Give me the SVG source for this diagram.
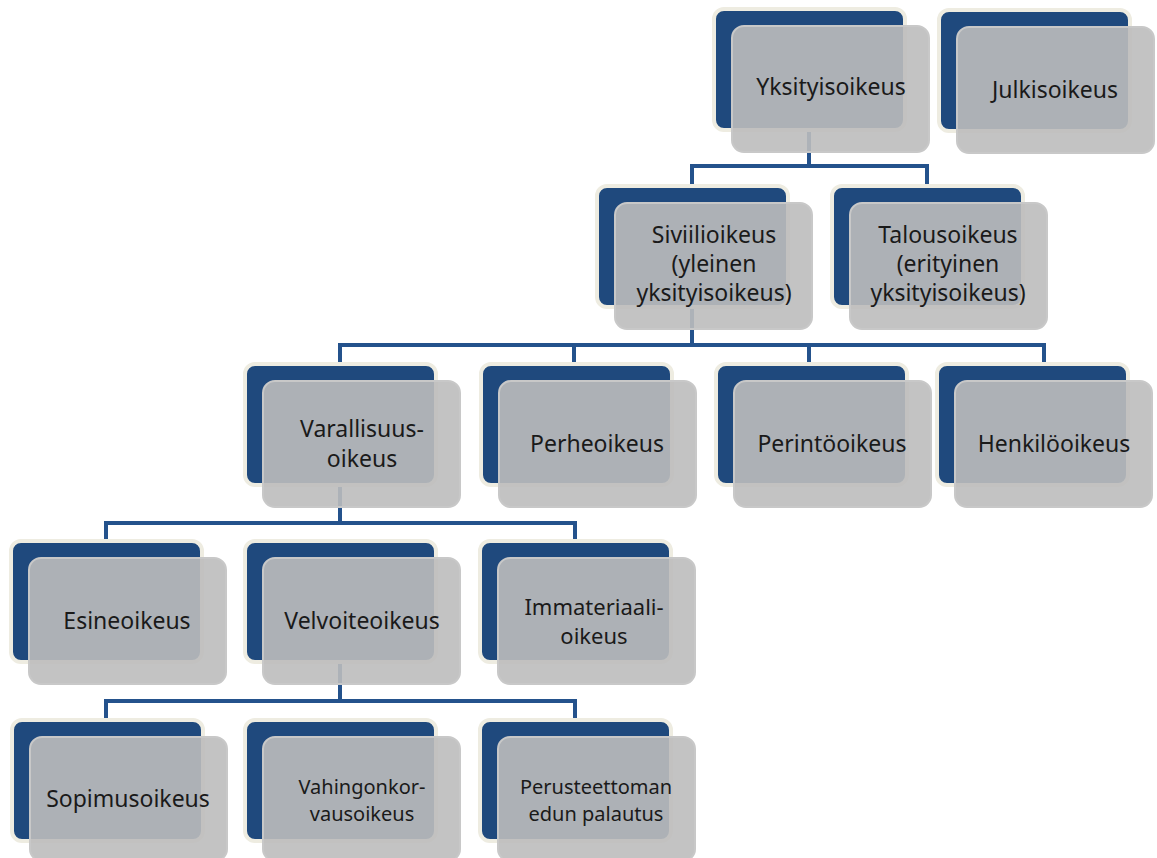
<svg xmlns="http://www.w3.org/2000/svg" width="1157" height="858" viewBox="0 0 1157 858">
<style>
.back{fill:#1f497d;stroke:#eeece1;stroke-width:4}
.front{fill:#bdbdbd;fill-opacity:0.9;stroke:#c8c8c8;stroke-width:2}
.t{font-family:"Noto Sans","Open Sans",sans-serif;font-size:23px;fill:#1a1a1a;text-anchor:middle}
.s{font-size:20px}
.m{font-size:22px}
.c{fill:none;stroke:#24528c;stroke-width:4}
</style>
<rect width="1157" height="858" fill="#ffffff"/>
<g id="connectors">
<path class="c" d="M809 128V166M692 188V166H927V188"/>
<path class="c" d="M692 305V345M340 367V345H1044V367M574 345V367M809 345V367"/>
<path class="c" d="M340 483V523M106 543V523H575V543"/>
<path class="c" d="M340 660V701M106 722V701H575V722"/>
</g>
<g id="yksityisoikeus">
<rect class="back" x="714" y="9" width="191" height="121" rx="10"/>
<rect class="front" x="732" y="26" width="197" height="126" rx="12"/>
<text class="t" x="831" y="95">Yksityisoikeus</text>
</g>
<g id="julkisoikeus">
<rect class="back" x="939" y="10" width="191" height="121" rx="10"/>
<rect class="front" x="957" y="27" width="197" height="126" rx="12"/>
<text class="t" x="1055" y="98">Julkisoikeus</text>
</g>
<g id="siviilioikeus">
<rect class="back" x="597" y="186" width="191" height="121" rx="10"/>
<rect class="front" x="615" y="203" width="197" height="126" rx="12"/>
<text class="t" x="714" y="243">Siviilioikeus</text>
<text class="t" x="714" y="272">(yleinen</text>
<text class="t" x="714" y="301">yksityisoikeus)</text>
</g>
<g id="talousoikeus">
<rect class="back" x="832" y="186" width="191" height="121" rx="10"/>
<rect class="front" x="850" y="203" width="197" height="126" rx="12"/>
<text class="t" x="948" y="243">Talousoikeus</text>
<text class="t" x="948" y="272">(erityinen</text>
<text class="t" x="948" y="301">yksityisoikeus)</text>
</g>
<g id="varallisuusoikeus">
<rect class="back" x="245" y="364" width="191" height="121" rx="10"/>
<rect class="front" x="263" y="381" width="197" height="126" rx="12"/>
<text class="t" x="362" y="437">Varallisuus-</text>
<text class="t" x="362" y="467">oikeus</text>
</g>
<g id="perheoikeus">
<rect class="back" x="481" y="364" width="191" height="121" rx="10"/>
<rect class="front" x="499" y="381" width="197" height="126" rx="12"/>
<text class="t" x="597" y="452">Perheoikeus</text>
</g>
<g id="perintooikeus">
<rect class="back" x="716" y="364" width="191" height="121" rx="10"/>
<rect class="front" x="734" y="381" width="197" height="126" rx="12"/>
<text class="t" x="832" y="452">Perintöoikeus</text>
</g>
<g id="henkilooikeus">
<rect class="back" x="937" y="364" width="191" height="121" rx="10"/>
<rect class="front" x="955" y="381" width="197" height="126" rx="12"/>
<text class="t" x="1054" y="452">Henkilöoikeus</text>
</g>
<g id="esineoikeus">
<rect class="back" x="11" y="541" width="191" height="121" rx="10"/>
<rect class="front" x="29" y="558" width="197" height="126" rx="12"/>
<text class="t" x="127" y="629">Esineoikeus</text>
</g>
<g id="velvoiteoikeus">
<rect class="back" x="245" y="541" width="191" height="121" rx="10"/>
<rect class="front" x="263" y="558" width="197" height="126" rx="12"/>
<text class="t" x="362" y="629">Velvoiteoikeus</text>
</g>
<g id="immateriaalioikeus">
<rect class="back" x="480" y="541" width="191" height="121" rx="10"/>
<rect class="front" x="498" y="558" width="197" height="126" rx="12"/>
<text class="t m" x="594" y="615">Immateriaali-</text>
<text class="t m" x="594" y="644">oikeus</text>
</g>
<g id="sopimusoikeus">
<rect class="back" x="12" y="720" width="191" height="121" rx="10"/>
<rect class="front" x="30" y="737" width="197" height="124" rx="12"/>
<text class="t" x="128" y="807">Sopimusoikeus</text>
</g>
<g id="vahingonkorvausoikeus">
<rect class="back" x="245" y="720" width="191" height="121" rx="10"/>
<rect class="front" x="263" y="737" width="197" height="124" rx="12"/>
<text class="t s" x="362" y="794">Vahingonkor-</text>
<text class="t s" x="362" y="821">vausoikeus</text>
</g>
<g id="perusteettoman">
<rect class="back" x="480" y="720" width="191" height="121" rx="10"/>
<rect class="front" x="498" y="737" width="197" height="124" rx="12"/>
<text class="t s" x="596" y="794">Perusteettoman</text>
<text class="t s" x="596" y="821">edun palautus</text>
</g>
</svg>
